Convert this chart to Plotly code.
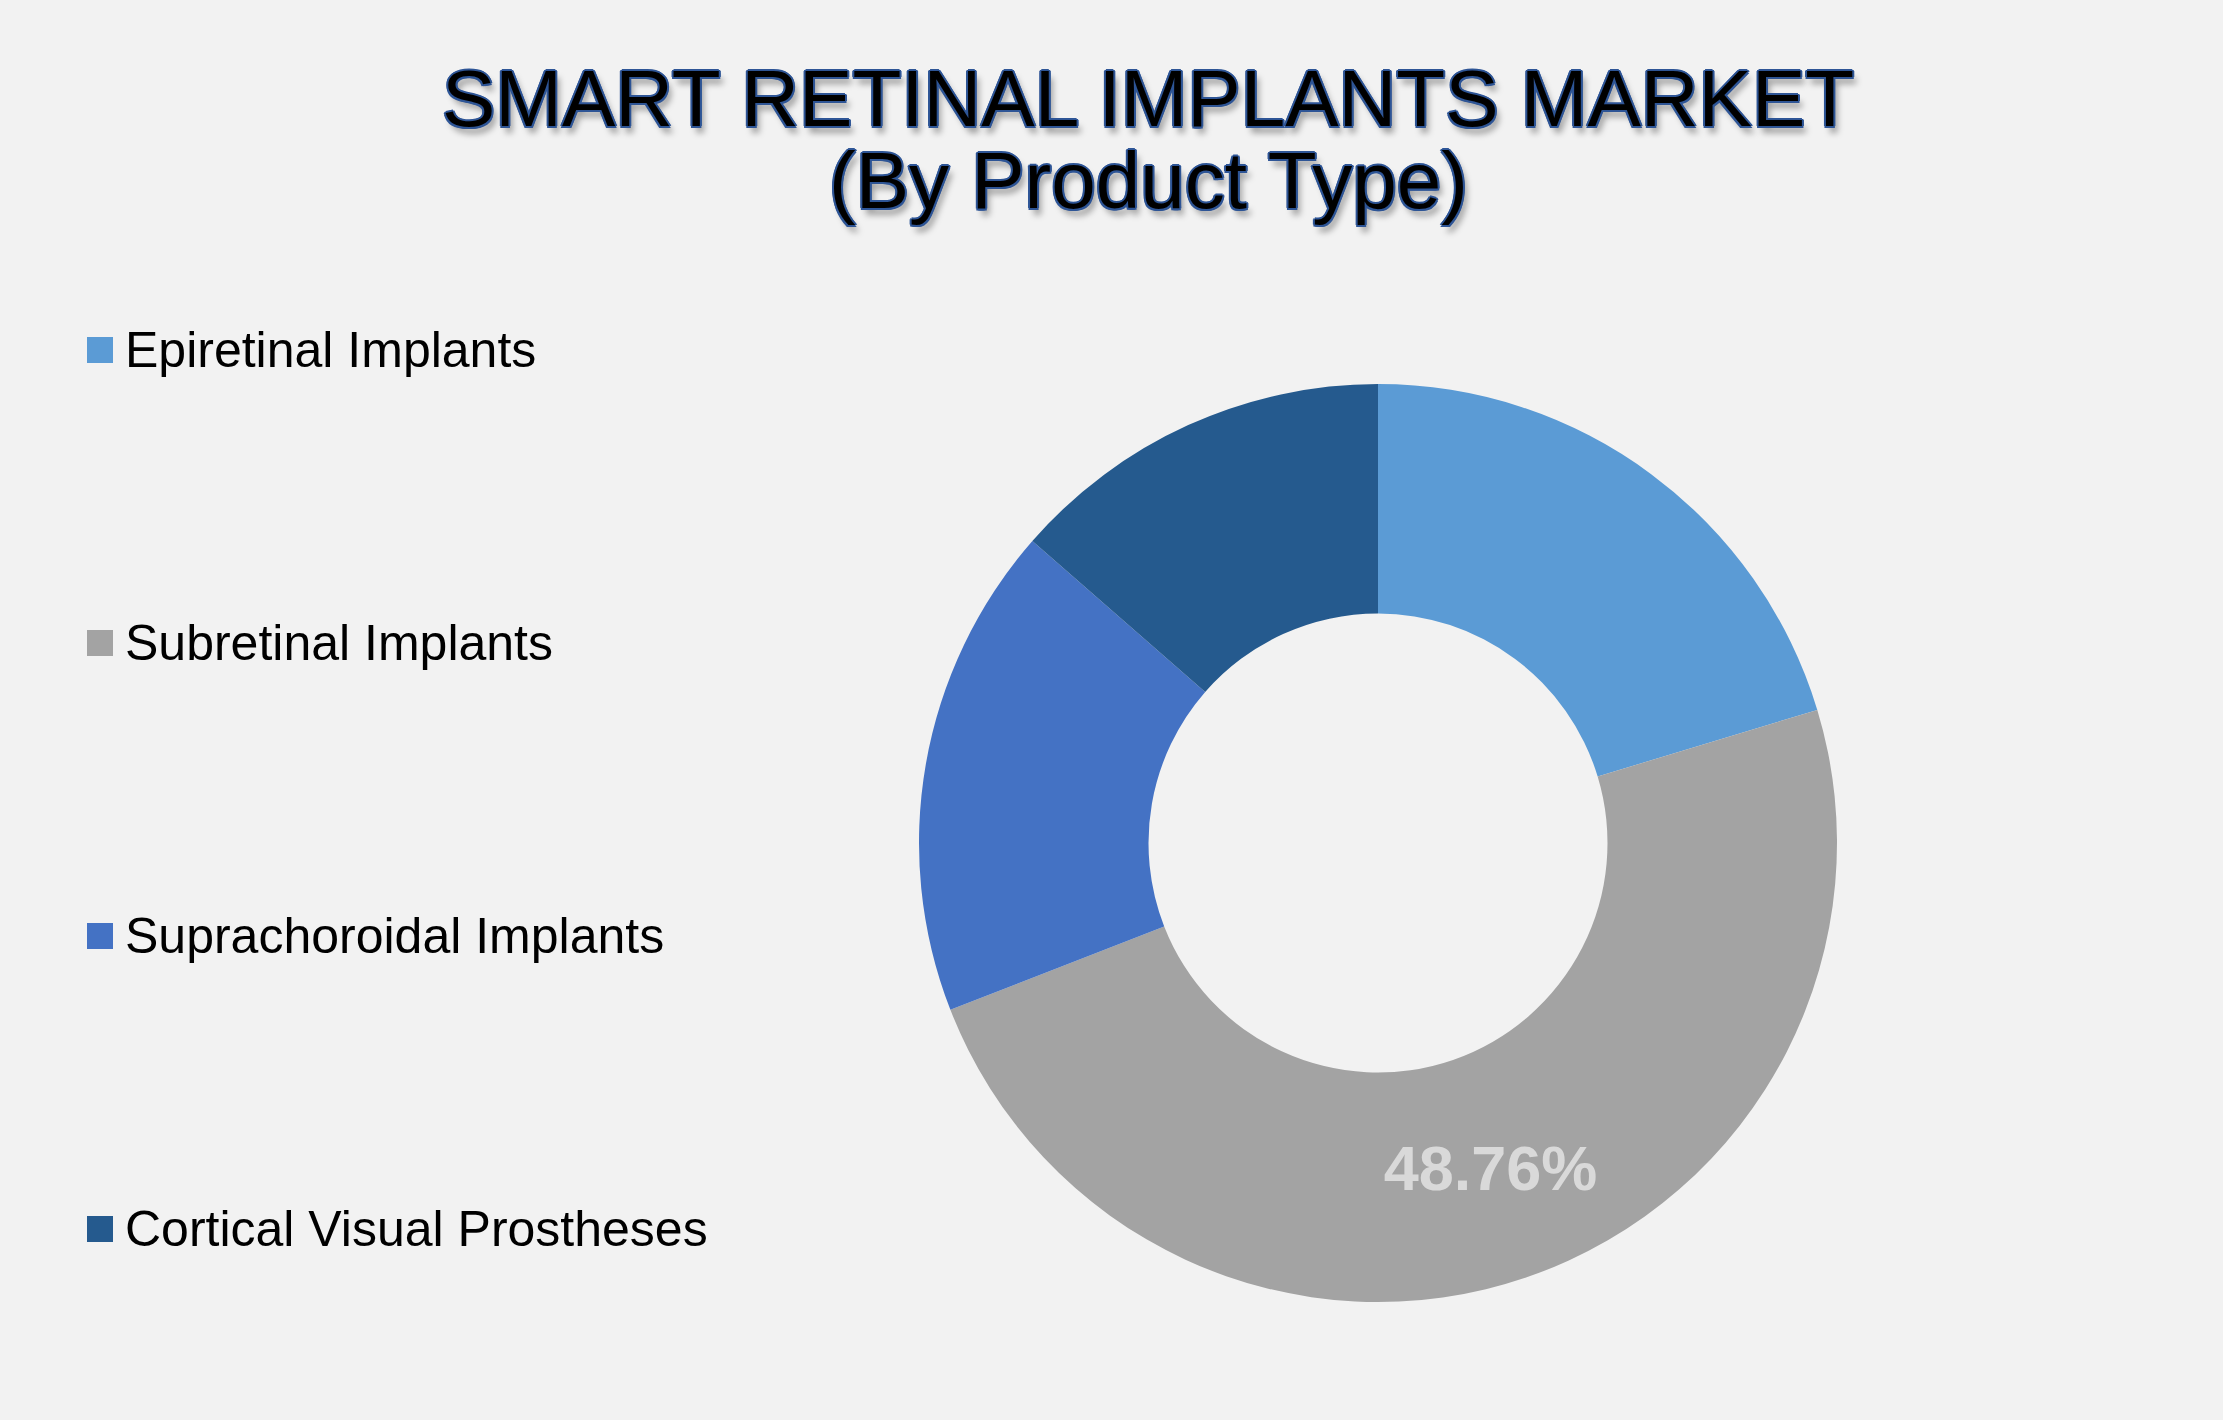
import plotly.graph_objects as go

W, H = 2223, 1420

segments = ["Epiretinal Implants", "Subretinal Implants", "Suprachoroidal Implants", "Cortical Visual Prostheses"]
shares = [20.32, 48.76, 17.35, 13.57]
shown_labels = ["", "48.76%", "", ""]
colors = ["#5B9BD5", "#A3A3A3", "#4472C4", "#255A8E"]

title_lines = ["SMART RETINAL IMPLANTS MARKET", "(By Product Type)"]

bg = "#F2F2F2"
outline = "#2E5596"
title_shadow = ", ".join(
    [f"{dx}px {dy}px 0 {outline}" for dx, dy in
     [(-1.5, -1.5), (1.5, -1.5), (-1.5, 1.5), (1.5, 1.5), (0, -2), (0, 2), (-2, 0), (2, 0)]]
    + ["4px 7px 6px rgba(0,0,0,0.35)"]
)


def px_x(x):
    return x / W


def px_y(y):
    return 1 - y / H


fig = go.Figure(go.Pie(
    labels=segments,
    values=shares,
    text=shown_labels,
    textinfo="text",
    textposition="inside",
    insidetextorientation="horizontal",
    insidetextfont=dict(family="Liberation Sans, Arial", size=63, color="#D9D9D9", weight="bold"),
    marker=dict(colors=colors, line=dict(width=0)),
    hole=0.5,
    sort=False,
    direction="clockwise",
    rotation=0,
    domain=dict(x=[px_x(1378 - 459), px_x(1378 + 459)], y=[px_y(843 + 459), px_y(843 - 459)]),
    showlegend=False,
    hoverinfo="label+percent",
))

annotations = []
# title, two lines placed separately to get the tight line spacing
for line, yc in zip(title_lines, [98, 181]):
    annotations.append(dict(
        text=line, x=px_x(1148), y=px_y(yc), xref="paper", yref="paper",
        xanchor="center", yanchor="middle", showarrow=False,
        font=dict(family="Liberation Sans, Arial", size=80, color="#000000", shadow=title_shadow),
    ))

# legend drawn on the left
shapes = []
for i, (name, col) in enumerate(zip(segments, colors)):
    yc = 350 + i * 293
    shapes.append(dict(
        type="rect", xref="paper", yref="paper",
        x0=px_x(87), x1=px_x(113), y0=px_y(yc + 13), y1=px_y(yc - 13),
        fillcolor=col, line=dict(width=0),
    ))
    annotations.append(dict(
        text=name, x=px_x(123), y=px_y(yc), xref="paper", yref="paper",
        xanchor="left", yanchor="middle", showarrow=False,
        font=dict(family="Liberation Sans, Arial", size=50, color="#000000"),
    ))

fig.update_layout(
    width=W, height=H,
    paper_bgcolor=bg, plot_bgcolor=bg,
    margin=dict(l=0, r=0, t=0, b=0),
    annotations=annotations,
    shapes=shapes,
)

fig.write_html(
    "out.html",
    config={"displayModeBar": False},
    post_script="document.body.style.margin = '0';",
)
